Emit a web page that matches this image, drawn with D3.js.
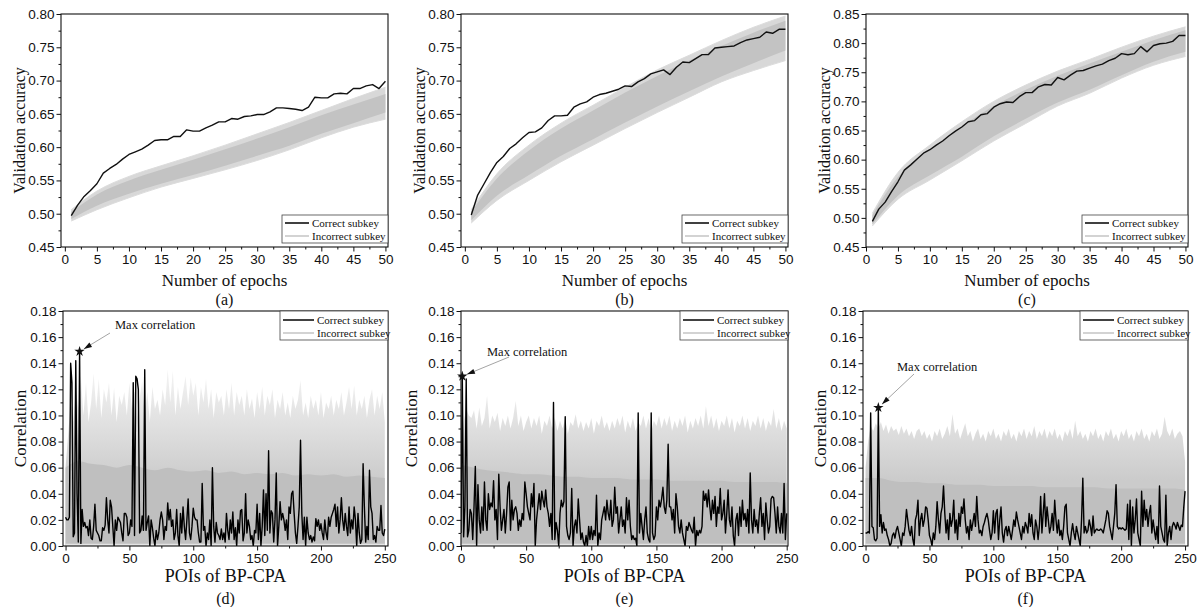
<!DOCTYPE html>
<html>
<head>
<meta charset="utf-8">
<script src="https://cdn.jsdelivr.net/npm/d3@7"></script>
<style>
  html, body { margin: 0; background: #fff; }
  svg text { font-family: "Liberation Sans", Arial, sans-serif; fill: #111; }
  svg text.serif { font-family: "Liberation Serif", "Times New Roman", serif; }
</style>
</head>
<body>
<svg id="fig" width="1201" height="607"></svg>
<script>
// ---- data: validation accuracy (top row) ----
const epochs = d3.range(1, 51);
const bandEpochs = [1, 5, 10, 15, 20, 25, 30, 35, 40, 45, 50];

const accCorrectA = [0.497,0.513,0.526,0.535,0.545,0.561,0.568,0.574,0.582,0.589,
  0.593,0.597,0.603,0.610,0.611,0.611,0.616,0.616,0.626,0.624,
  0.624,0.629,0.633,0.638,0.638,0.643,0.642,0.646,0.647,0.649,
  0.649,0.653,0.659,0.659,0.658,0.657,0.655,0.660,0.675,0.674,
  0.674,0.680,0.681,0.680,0.688,0.688,0.692,0.694,0.688,0.699];
const accCorrectB = [0.498,0.528,0.545,0.562,0.577,0.586,0.598,0.605,0.614,0.622,
  0.623,0.629,0.640,0.647,0.647,0.648,0.660,0.665,0.668,0.675,
  0.679,0.681,0.684,0.687,0.692,0.691,0.698,0.703,0.710,0.713,
  0.716,0.709,0.720,0.728,0.727,0.733,0.739,0.739,0.749,0.750,
  0.751,0.752,0.757,0.761,0.763,0.765,0.773,0.771,0.777,0.777];
const accCorrectC = [0.494,0.515,0.527,0.545,0.562,0.582,0.591,0.601,0.611,0.617,
  0.625,0.632,0.641,0.649,0.656,0.665,0.667,0.677,0.679,0.690,
  0.696,0.699,0.698,0.708,0.715,0.715,0.725,0.729,0.728,0.741,
  0.737,0.745,0.752,0.753,0.757,0.761,0.764,0.770,0.774,0.782,
  0.780,0.782,0.794,0.785,0.796,0.799,0.800,0.803,0.813,0.813];

// incorrect-subkey spread: outer envelope and dense core
const accOuterLoA = [0.489,0.506,0.524,0.540,0.553,0.566,0.580,0.596,0.614,0.630,0.642];
const accOuterHiA = [0.506,0.534,0.556,0.572,0.587,0.603,0.620,0.637,0.655,0.673,0.690];
const accCoreLoA  = [0.492,0.512,0.530,0.545,0.558,0.572,0.587,0.602,0.620,0.636,0.652];
const accCoreHiA  = [0.503,0.529,0.550,0.566,0.581,0.597,0.613,0.630,0.648,0.664,0.680];

const accOuterLoB = [0.486,0.520,0.550,0.578,0.603,0.628,0.652,0.675,0.698,0.715,0.730];
const accOuterHiB = [0.506,0.560,0.603,0.636,0.663,0.690,0.716,0.738,0.760,0.780,0.797];
const accCoreLoB  = [0.490,0.527,0.558,0.587,0.612,0.637,0.661,0.684,0.706,0.726,0.745];
const accCoreHiB  = [0.503,0.553,0.595,0.628,0.655,0.682,0.707,0.730,0.752,0.772,0.790];

const accOuterLoC = [0.486,0.532,0.565,0.598,0.632,0.662,0.692,0.714,0.740,0.762,0.777];
const accOuterHiC = [0.508,0.578,0.625,0.665,0.700,0.728,0.752,0.772,0.793,0.812,0.828];
const accCoreLoC  = [0.489,0.538,0.573,0.605,0.640,0.670,0.698,0.720,0.745,0.768,0.785];
const accCoreHiC  = [0.505,0.570,0.617,0.657,0.692,0.720,0.744,0.765,0.785,0.805,0.822];

// ---- data: correlation per POI (bottom row) ----
const pois = d3.range(0, 251);
const pois2 = d3.range(0, 251, 2);
const pois10 = d3.range(0, 251, 10);

const corrD = [0.022,0.020,0.020,0.022,0.140,0.125,0.007,0.010,0.142,0.040,0.003,0.149,0.002,
  0.028,0.015,0.018,0.014,0.015,0.008,0.020,
  0.006,0.005,0.015,0.032,0.012,0.010,0.008,0.004,0.004,0.014,
  0.012,0.016,0.037,0.020,0.010,0.035,0.030,0.015,0.000,0.020,
  0.012,0.022,0.020,0.018,0.010,0.004,0.025,0.025,0.022,0.008,
  0.010,0.020,0.015,0.125,0.008,0.130,0.128,0.120,0.010,0.012,
  0.023,0.012,0.135,0.012,0.018,0.023,0.000,0.020,0.014,0.006,
  0.000,0.012,0.005,0.010,0.020,0.026,0.020,0.005,0.015,0.012,
  0.033,0.020,0.028,0.015,0.020,0.005,0.010,0.028,0.008,0.000,
  0.025,0.010,0.030,0.015,0.005,0.020,0.036,0.010,0.005,0.015,
  0.029,0.022,0.020,0.020,0.010,0.003,0.003,0.048,0.012,0.015,
  0.000,0.010,0.005,0.020,0.000,0.060,0.015,0.003,0.018,0.010,
  0.008,0.005,0.013,0.005,0.010,0.003,0.025,0.012,0.005,0.020,
  0.010,0.026,0.005,0.014,0.000,0.020,0.010,0.027,0.028,0.004,
  0.010,0.040,0.010,0.020,0.015,0.005,0.008,0.000,0.012,0.010,
  0.032,0.005,0.025,0.000,0.015,0.043,0.008,0.040,0.012,0.073,
  0.010,0.027,0.025,0.003,0.020,0.056,0.000,0.015,0.034,0.020,
  0.025,0.020,0.012,0.020,0.005,0.030,0.025,0.040,0.042,0.025,
  0.010,0.002,0.015,0.030,0.081,0.025,0.005,0.022,0.000,0.022,
  0.010,0.005,0.008,0.003,0.007,0.004,0.021,0.015,0.020,0.012,
  0.017,0.010,0.005,0.020,0.010,0.005,0.022,0.015,0.022,0.025,
  0.028,0.032,0.015,0.030,0.010,0.020,0.037,0.020,0.012,0.025,
  0.015,0.008,0.030,0.010,0.020,0.013,0.030,0.020,0.000,0.025,
  0.010,0.002,0.005,0.063,0.030,0.003,0.015,0.005,0.058,0.030,
  0.025,0.005,0.008,0.003,0.015,0.012,0.012,0.031,0.010,0.008,
  0.013];
const corrE = [0.010,0.130,0.007,0.030,0.128,0.007,0.012,0.028,0.025,0.005,
  0.030,0.061,0.000,0.047,0.020,0.010,0.030,0.012,0.049,0.020,
  0.012,0.040,0.028,0.033,0.030,0.050,0.020,0.028,0.005,0.055,
  0.030,0.012,0.020,0.028,0.010,0.025,0.045,0.049,0.012,0.035,
  0.020,0.028,0.030,0.025,0.012,0.020,0.015,0.025,0.020,0.049,
  0.040,0.030,0.025,0.020,0.040,0.030,0.048,0.000,0.020,0.030,
  0.040,0.028,0.042,0.035,0.030,0.043,0.030,0.025,0.015,0.025,
  0.005,0.110,0.005,0.018,0.012,0.000,0.025,0.035,0.030,0.034,
  0.099,0.015,0.008,0.005,0.010,0.044,0.000,0.015,0.020,0.010,
  0.036,0.020,0.005,0.010,0.003,0.000,0.008,0.000,0.015,0.005,
  0.015,0.005,0.012,0.008,0.039,0.000,0.010,0.005,0.020,0.025,
  0.030,0.020,0.035,0.025,0.020,0.035,0.015,0.020,0.045,0.025,
  0.030,0.010,0.020,0.030,0.015,0.020,0.010,0.037,0.020,0.035,
  0.015,0.005,0.008,0.005,0.006,0.000,0.102,0.010,0.025,0.015,
  0.005,0.020,0.030,0.010,0.005,0.003,0.102,0.010,0.005,0.008,
  0.030,0.020,0.035,0.030,0.036,0.045,0.030,0.025,0.035,0.078,
  0.030,0.030,0.020,0.028,0.010,0.040,0.030,0.015,0.010,0.020,
  0.010,0.005,0.000,0.015,0.012,0.018,0.015,0.012,0.010,0.022,
  0.000,0.012,0.008,0.012,0.010,0.015,0.042,0.035,0.040,0.030,
  0.043,0.030,0.020,0.035,0.025,0.038,0.015,0.030,0.025,0.044,
  0.020,0.025,0.035,0.010,0.025,0.043,0.020,0.015,0.030,0.008,
  0.000,0.020,0.025,0.008,0.030,0.015,0.035,0.020,0.025,0.015,
  0.028,0.010,0.056,0.020,0.010,0.028,0.015,0.020,0.010,0.025,
  0.037,0.015,0.025,0.005,0.033,0.020,0.010,0.015,0.036,0.038,
  0.037,0.025,0.010,0.030,0.015,0.010,0.025,0.010,0.048,0.005,
  0.025];
const corrF = [0.010,0.010,0.011,0.010,0.102,0.015,0.014,0.005,0.004,0.006,
  0.106,0.015,0.024,0.010,0.018,0.012,0.013,0.008,0.005,0.000,
  0.002,0.008,0.010,0.006,0.012,0.015,0.010,0.005,0.000,0.010,
  0.008,0.015,0.028,0.020,0.012,0.008,0.015,0.005,0.000,0.020,
  0.024,0.035,0.008,0.020,0.025,0.015,0.020,0.030,0.029,0.020,
  0.008,0.005,0.000,0.010,0.005,0.015,0.034,0.020,0.010,0.025,
  0.030,0.046,0.025,0.010,0.020,0.005,0.025,0.015,0.020,0.035,
  0.010,0.020,0.005,0.025,0.015,0.030,0.025,0.036,0.020,0.010,
  0.015,0.005,0.020,0.012,0.018,0.025,0.015,0.038,0.020,0.010,
  0.012,0.008,0.015,0.018,0.022,0.025,0.020,0.012,0.005,0.010,
  0.027,0.010,0.025,0.028,0.005,0.020,0.030,0.010,0.003,0.012,
  0.015,0.008,0.015,0.010,0.005,0.012,0.020,0.015,0.026,0.020,
  0.015,0.010,0.005,0.015,0.010,0.018,0.015,0.010,0.025,0.015,
  0.024,0.010,0.005,0.020,0.015,0.005,0.015,0.038,0.010,0.025,
  0.040,0.015,0.030,0.020,0.010,0.015,0.025,0.012,0.035,0.020,
  0.010,0.020,0.008,0.012,0.005,0.015,0.030,0.032,0.010,0.005,
  0.000,0.010,0.017,0.010,0.005,0.015,0.010,0.005,0.000,0.020,
  0.052,0.010,0.015,0.010,0.012,0.020,0.015,0.008,0.023,0.010,
  0.012,0.013,0.012,0.012,0.013,0.012,0.010,0.015,0.020,0.027,
  0.025,0.015,0.010,0.005,0.015,0.025,0.047,0.015,0.013,0.014,
  0.013,0.014,0.013,0.012,0.013,0.032,0.005,0.035,0.000,0.030,
  0.010,0.020,0.036,0.010,0.005,0.000,0.042,0.015,0.035,0.020,
  0.028,0.015,0.025,0.031,0.010,0.020,0.012,0.005,0.015,0.002,
  0.046,0.015,0.010,0.005,0.003,0.039,0.000,0.010,0.015,0.005,
  0.015,0.018,0.016,0.013,0.018,0.015,0.012,0.016,0.015,0.030,
  0.042];

// incorrect-subkey maxima (every 2 POIs) and dense core top (every 10 POIs)
const outerD = [0.060,0.085,0.110,0.095,0.120,0.105,0.130,0.100,0.125,0.095,0.110,0.132,0.105,0.128,0.098,0.120,
  0.110,0.125,0.100,0.121,0.095,0.115,0.108,0.118,0.100,0.125,0.105,0.120,0.098,0.113,0.126,0.100,
  0.118,0.095,0.122,0.105,0.112,0.100,0.120,0.108,0.135,0.110,0.134,0.100,0.122,0.105,0.118,0.130,
  0.108,0.129,0.115,0.125,0.100,0.122,0.110,0.128,0.105,0.120,0.098,0.118,0.110,0.115,0.100,0.120,
  0.105,0.125,0.100,0.118,0.108,0.115,0.100,0.120,0.105,0.113,0.098,0.118,0.105,0.122,0.100,0.115,
  0.108,0.120,0.098,0.112,0.105,0.118,0.100,0.110,0.098,0.115,0.105,0.112,0.127,0.100,0.110,0.098,
  0.115,0.105,0.112,0.100,0.118,0.098,0.110,0.105,0.115,0.100,0.112,0.105,0.118,0.100,0.110,0.122,
  0.105,0.123,0.100,0.112,0.105,0.115,0.098,0.112,0.120,0.100,0.115,0.105,0.118,0.095];
const outerE = [0.070,0.095,0.105,0.100,0.098,0.104,0.090,0.106,0.092,0.098,0.115,0.090,0.100,0.095,0.102,0.088,
  0.098,0.092,0.100,0.090,0.098,0.111,0.092,0.100,0.088,0.095,0.100,0.090,0.098,0.092,0.100,0.086,
  0.096,0.092,0.100,0.090,0.098,0.088,0.096,0.090,0.098,0.086,0.095,0.092,0.101,0.090,0.096,0.088,
  0.095,0.090,0.098,0.086,0.096,0.092,0.100,0.090,0.095,0.088,0.096,0.090,0.098,0.092,0.100,0.087,
  0.096,0.090,0.098,0.088,0.095,0.092,0.100,0.090,0.098,0.087,0.096,0.092,0.100,0.090,0.098,0.092,
  0.100,0.088,0.096,0.090,0.098,0.092,0.100,0.087,0.096,0.090,0.098,0.092,0.100,0.090,0.107,0.092,
  0.100,0.090,0.098,0.088,0.096,0.092,0.100,0.090,0.098,0.087,0.096,0.092,0.100,0.090,0.098,0.088,
  0.096,0.092,0.100,0.090,0.098,0.088,0.096,0.092,0.105,0.090,0.098,0.088,0.096,0.090];
const outerF = [0.060,0.080,0.092,0.088,0.094,0.090,0.095,0.088,0.093,0.086,0.092,0.088,0.090,0.085,0.092,0.086,
  0.090,0.084,0.088,0.082,0.088,0.090,0.084,0.088,0.082,0.086,0.080,0.088,0.084,0.090,0.082,0.086,
  0.092,0.084,0.101,0.086,0.090,0.082,0.088,0.094,0.084,0.088,0.080,0.086,0.090,0.082,0.086,0.080,
  0.088,0.084,0.090,0.082,0.086,0.080,0.088,0.084,0.090,0.082,0.086,0.080,0.088,0.084,0.090,0.082,
  0.088,0.084,0.092,0.082,0.088,0.084,0.090,0.082,0.088,0.084,0.090,0.082,0.086,0.080,0.088,0.084,
  0.090,0.082,0.096,0.084,0.088,0.082,0.086,0.080,0.088,0.084,0.090,0.082,0.086,0.080,0.088,0.084,
  0.090,0.082,0.086,0.080,0.088,0.084,0.090,0.082,0.086,0.080,0.088,0.084,0.090,0.082,0.086,0.080,
  0.088,0.084,0.090,0.082,0.086,0.099,0.088,0.084,0.090,0.082,0.086,0.088,0.084,0.065];
const coreD = [0.060,0.065,0.063,0.062,0.060,0.062,0.060,0.058,0.060,0.058,0.057,0.058,0.056,
  0.057,0.055,0.056,0.055,0.056,0.054,0.055,0.054,0.055,0.053,0.054,0.053,0.052];
const coreE = [0.062,0.060,0.058,0.057,0.056,0.055,0.055,0.054,0.053,0.053,0.052,0.052,0.052,
  0.051,0.051,0.051,0.050,0.050,0.050,0.050,0.050,0.049,0.049,0.049,0.049,0.048];
const coreF = [0.052,0.052,0.050,0.049,0.049,0.048,0.048,0.047,0.047,0.047,0.046,0.046,0.046,
  0.046,0.045,0.045,0.045,0.045,0.045,0.044,0.044,0.044,0.044,0.044,0.044,0.043];

// ---- drawing ----
const svg = d3.select("#fig");
const fmt2 = d3.format(".2f");

function setupPanel(id, box) {
  const g = svg.append("g").attr("id", "panel-" + id);
  const x = d3.scaleLinear().domain(box.xDomain).range([box.left, box.right]);
  const y = d3.scaleLinear().domain(box.yDomain).range([box.bottom, box.top]);
  svg.append("clipPath").attr("id", "clip-" + id)
    .append("rect")
    .attr("x", box.left).attr("y", box.top)
    .attr("width", box.right - box.left).attr("height", box.bottom - box.top);
  const plot = g.append("g").attr("clip-path", `url(#clip-${id})`);
  return { g, plot, x, y };
}

function drawAxes(p, box, ax) {
  const { g, x, y } = p;
  // minor ticks first, then major
  g.append("g").attr("transform", `translate(0,${box.bottom})`)
    .call(d3.axisBottom(x).tickValues(ax.xMinor).tickSize(2.5).tickFormat(""));
  g.append("g").attr("transform", `translate(${box.left},0)`)
    .call(d3.axisLeft(y).tickValues(ax.yMinor).tickSize(2.5).tickFormat(""));
  g.append("g").attr("class", "xa").attr("transform", `translate(0,${box.bottom})`)
    .call(d3.axisBottom(x).tickValues(ax.xTicks).tickSize(4.5).tickPadding(3));
  g.append("g").attr("class", "ya").attr("transform", `translate(${box.left},0)`)
    .call(d3.axisLeft(y).tickValues(ax.yTicks).tickSize(4.5).tickPadding(2).tickFormat(fmt2));
  g.selectAll(".domain").remove();
  g.selectAll(".tick line").attr("stroke", "#111").attr("stroke-width", 1);
  g.selectAll(".tick text").attr("font-size", "13.5px").attr("fill", "#111");
  // frame
  g.append("rect")
    .attr("x", box.left).attr("y", box.top)
    .attr("width", box.right - box.left).attr("height", box.bottom - box.top)
    .attr("fill", "none").attr("stroke", "#111").attr("stroke-width", 1.1);
  // titles
  g.append("text").attr("class", "serif")
    .attr("transform", `translate(${box.left - ax.yLabelGap},${(box.top + box.bottom) / 2}) rotate(-90)`)
    .attr("text-anchor", "middle").attr("dominant-baseline", "central")
    .attr("font-size", ax.yLabelSize).text(ax.yLabel);
  g.append("text").attr("class", "serif")
    .attr("x", (box.left + box.right) / 2).attr("y", ax.xLabelY)
    .attr("text-anchor", "middle").attr("dominant-baseline", "central")
    .attr("font-size", ax.xLabelSize).text(ax.xLabel);
  g.append("text").attr("class", "serif")
    .attr("x", (box.left + box.right) / 2).attr("y", ax.tagY)
    .attr("text-anchor", "middle").attr("dominant-baseline", "central")
    .attr("font-size", "16px").text(ax.tag);
}

function drawLegend(g, lg) {
  g.append("rect").attr("x", lg.x).attr("y", lg.y).attr("width", lg.w).attr("height", lg.h)
    .attr("fill", "#fff").attr("stroke", "#444").attr("stroke-width", 0.8);
  const rows = [
    { label: "Correct subkey", color: "#111", w: 1.6 },
    { label: "Incorrect subkey", color: "#c8c8c8", w: 1.6 }
  ];
  rows.forEach((r, i) => {
    const yy = lg.y + lg.row0 + i * lg.step;
    g.append("line").attr("x1", lg.x + 3).attr("x2", lg.x + lg.lineW)
      .attr("y1", yy).attr("y2", yy).attr("stroke", r.color).attr("stroke-width", r.w);
    g.append("text").attr("class", "serif").attr("x", lg.x + lg.lineW + 3).attr("y", yy)
      .attr("dominant-baseline", "central").attr("font-size", "11px").text(r.label);
  });
}

function accPanel(id, box, correct, oLo, oHi, cLo, cHi, tag) {
  const p = setupPanel(id, box);
  const { plot, x, y } = p;
  const outer = d3.area().curve(d3.curveMonotoneX)
    .x((d, i) => x(bandEpochs[i])).y0((d, i) => y(oLo[i])).y1((d, i) => y(oHi[i]));
  const core = d3.area().curve(d3.curveMonotoneX)
    .x((d, i) => x(bandEpochs[i])).y0((d, i) => y(cLo[i])).y1((d, i) => y(cHi[i]));
  plot.append("path").datum(bandEpochs).attr("d", outer).attr("fill", "#d8d8d8");
  const edge = d3.line().curve(d3.curveMonotoneX).x((d, i) => x(bandEpochs[i]));
  plot.append("path").datum(oLo).attr("d", edge.y(d => y(d))).attr("fill", "none")
    .attr("stroke", "#dcdcdc").attr("stroke-width", 1);
  plot.append("path").datum(oHi).attr("d", edge.y(d => y(d))).attr("fill", "none")
    .attr("stroke", "#dcdcdc").attr("stroke-width", 1);
  plot.append("path").datum(bandEpochs).attr("d", core).attr("fill", "#c3c3c3");
  plot.append("path").datum(correct)
    .attr("d", d3.line().x((d, i) => x(epochs[i])).y(d => y(d)))
    .attr("fill", "none").attr("stroke", "#111").attr("stroke-width", 1.4)
    .attr("stroke-linejoin", "round");
  const yTicks = d3.range(0.45, box.yDomain[1] + 0.001, 0.05);
  drawAxes(p, box, {
    xTicks: d3.range(0, 51, 5), xMinor: d3.range(2.5, 50, 5),
    yTicks, yMinor: yTicks.slice(0, -1).map(v => v + 0.025),
    yLabel: "Validation accuracy", yLabelSize: "16px", yLabelGap: 42,
    xLabel: "Number of epochs", xLabelSize: "17px", xLabelY: 280,
    tag, tagY: 299.5
  });
  drawLegend(p.g, { x: box.right - 106, y: 215, w: 106, h: 28, row0: 8, step: 13, lineW: 27 });
}

function corrPanel(id, box, correct, outerMax, coreTop, tag, note) {
  const p = setupPanel(id, box);
  const { g, plot, x, y } = p;
  const grad = svg.append("defs").append("linearGradient").attr("id", "grad-" + id)
    .attr("gradientUnits", "userSpaceOnUse")
    .attr("x1", 0).attr("x2", 0).attr("y1", y(0.05)).attr("y2", y(0.125));
  grad.append("stop").attr("offset", 0).attr("stop-color", "#cbcbcb");
  grad.append("stop").attr("offset", 0.4).attr("stop-color", "#dadada");
  grad.append("stop").attr("offset", 1).attr("stop-color", "#efefef");
  plot.append("path").datum(outerMax)
    .attr("d", d3.area().x((d, i) => x(pois2[i])).y0(y(0)).y1(d => y(d)))
    .attr("fill", `url(#grad-${id})`);
  plot.append("path").datum(coreTop)
    .attr("d", d3.area().curve(d3.curveMonotoneX).x((d, i) => x(pois10[i])).y0(y(0)).y1(d => y(d)))
    .attr("fill", "#bfbfbf");
  plot.append("path").datum(pois)
    .attr("d", d3.area().x(d => x(d)).y0(y(0)).y1(y(0.0018)))
    .attr("fill", "#e4e4e4");
  plot.append("path").datum(correct)
    .attr("d", d3.line().x((d, i) => x(pois[i])).y(d => y(d)))
    .attr("fill", "none").attr("stroke", "#000").attr("stroke-width", 1.4)
    .attr("stroke-linejoin", "round");

  drawAxes(p, box, {
    xTicks: d3.range(0, 251, 50), xMinor: d3.range(25, 250, 50),
    yTicks: d3.range(0, 0.181, 0.02), yMinor: d3.range(0.01, 0.18, 0.02),
    yLabel: "Correlation", yLabelSize: "17px", yLabelGap: note.yLabelGap,
    xLabel: "POIs of BP-CPA", xLabelSize: "18px", xLabelY: 576,
    tag, tagY: 598
  });
  drawLegend(g, { x: box.right - 108, y: box.top, w: 108, h: 29, row0: 9, step: 13, lineW: 34 });

  // max-correlation marker and callout
  const k = d3.maxIndex(correct);
  const sx = x(pois[k]), sy = y(correct[k]);
  g.append("path").attr("transform", `translate(${sx},${sy})`)
    .attr("d", d3.symbol(d3.symbolStar, 34)).attr("fill", "#111");
  const ang = Math.atan2(note.ay - sy, note.ax - sx);
  const ex = sx + Math.cos(ang) * 5, ey = sy + Math.sin(ang) * 5;
  g.append("line").attr("x1", note.ax).attr("y1", note.ay).attr("x2", ex).attr("y2", ey)
    .attr("stroke", "#9a9a9a").attr("stroke-width", 0.9);
  const hx = ex + Math.cos(ang) * 8, hy = ey + Math.sin(ang) * 8;
  const px = -Math.sin(ang) * 2.6, py = Math.cos(ang) * 2.6;
  g.append("path")
    .attr("d", `M${ex},${ey}L${hx + px},${hy + py}L${hx - px},${hy - py}Z`)
    .attr("fill", "#111");
  g.append("text").attr("class", "serif").attr("x", note.tx).attr("y", note.ty)
    .attr("dominant-baseline", "central").attr("font-size", "12.5px").text("Max correlation");
}

const topBox = { top: 14, bottom: 247 };
const botBox = { top: 311, bottom: 546 };

accPanel("a", { ...topBox, left: 61, right: 388, xDomain: [-0.6, 50.4], yDomain: [0.45, 0.80] },
  accCorrectA, accOuterLoA, accOuterHiA, accCoreLoA, accCoreHiA, "(a)");
accPanel("b", { ...topBox, left: 461, right: 788, xDomain: [-0.6, 50.4], yDomain: [0.45, 0.80] },
  accCorrectB, accOuterLoB, accOuterHiB, accCoreLoB, accCoreHiB, "(b)");
accPanel("c", { ...topBox, left: 866, right: 1188, xDomain: [0, 50.4], yDomain: [0.45, 0.85] },
  accCorrectC, accOuterLoC, accOuterHiC, accCoreLoC, accCoreHiC, "(c)");

corrPanel("d", { ...botBox, left: 63, right: 388, xDomain: [-2, 252.5], yDomain: [0, 0.18] },
  corrD, outerD, coreD, "(d)", { tx: 115, ty: 325, ax: 110, ay: 333, yLabelGap: 43 });
corrPanel("e", { ...botBox, left: 461, right: 788, xDomain: [0, 251], yDomain: [0, 0.18] },
  corrE, outerE, coreE, "(e)", { tx: 487, ty: 352, ax: 509, ay: 357, yLabelGap: 50 });
corrPanel("f", { ...botBox, left: 863, right: 1188, xDomain: [-2, 252.3], yDomain: [0, 0.18] },
  corrF, outerF, coreF, "(f)", { tx: 897, ty: 367, ax: 914, ay: 374, yLabelGap: 43 });
</script>
</body>
</html>
